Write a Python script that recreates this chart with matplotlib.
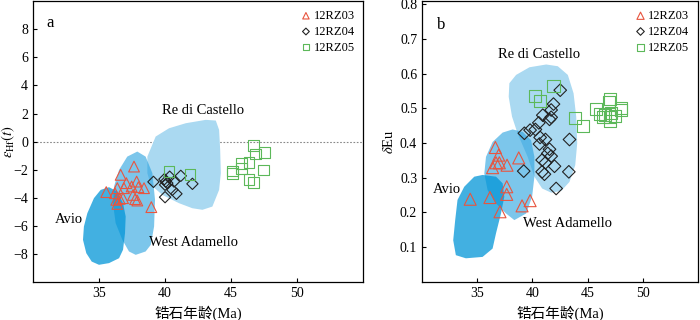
import numpy as np
import matplotlib
matplotlib.use("Agg")
import matplotlib.pyplot as plt
from matplotlib.patches import Polygon

plt.rcParams['font.family'] = ['Liberation Serif', 'Noto Sans CJK SC']
plt.rcParams['mathtext.fontset'] = 'stix'
plt.rcParams['font.size'] = 10

# ---- panel a : eHf(t) vs age ----
a_rz03_age = [35.55, 36.21, 36.31, 36.39, 36.57, 36.64, 36.82, 36.39, 37.07, 36.89,
              37.47, 37.65, 37.85, 37.98, 38.41, 37.58, 37.73, 37.90, 38.96]
a_rz03_ehf = [-3.60, -3.68, -4.15, -4.44, -4.08, -2.37, -4.03, -3.32, -2.96, -3.32,
              -3.20, -1.78, -2.85, -3.25, -3.32, -3.80, -4.10, -4.20, -4.67]
a_rz04_age = [39.12, 39.95, 40.05, 40.00, 40.17, 40.68, 41.19, 42.07, 40.55, 40.86, 40.00, 40.35]
a_rz04_ehf = [-2.87, -2.68, -2.85, -3.08, -2.96, -2.85, -2.44, -3.01, -3.44, -3.72, -3.96, -2.50]
a_rz05_age = [40.30, 41.89, 45.10, 45.10, 45.78, 45.78, 46.36, 46.87, 46.67, 47.50, 47.45, 46.36, 46.67]
a_rz05_ehf = [-2.14, -2.37, -2.09, -2.25, -1.54, -1.90, -1.49, -0.88, -0.28, -0.76, -2.02, -2.68, -2.92]

a_avio_x = [35.76, 36.39, 36.82, 37.02, 36.97, 36.82, 36.52, 35.76, 35.00, 34.45, 34.04, 33.79, 33.86, 34.12, 34.62, 35.13]
a_avio_y = [-3.25, -3.56, -4.39, -5.34, -6.52, -7.71, -8.31, -8.66, -8.78, -8.55, -7.95, -7.00, -6.05, -5.10, -4.03, -3.44]
a_west_x = [37.90, 38.53, 39.04, 39.24, 39.17, 38.92, 38.53, 37.78, 37.27, 36.77, 36.26, 36.06, 36.14, 36.52, 37.14]
a_west_y = [-0.71, -1.07, -2.25, -4.15, -6.05, -7.36, -7.83, -8.07, -7.83, -7.00, -5.81, -4.39, -3.20, -2.02, -1.07]
a_redi_x = [38.66, 39.29, 40.30, 41.57, 43.08, 43.84, 44.09, 44.17, 44.22, 44.09, 43.58, 42.83, 42.07, 41.06, 39.80, 38.92, 38.66]
a_redi_y = [-1.07, 0.36, 0.95, 1.31, 1.55, 1.50, 0.83, -0.59, -2.25, -3.44, -4.63, -4.86, -4.75, -4.39, -3.80, -3.08, -2.25]

# ---- panel b : dEu vs age ----
b_rz03_age = [36.64, 36.94, 37.00, 36.70, 36.39, 37.70, 38.76, 37.67, 37.67, 36.15, 34.36, 37.06, 39.06, 39.79]
b_rz03_eu = [0.387, 0.365, 0.343, 0.343, 0.329, 0.336, 0.357, 0.274, 0.252, 0.243, 0.238, 0.202, 0.219, 0.234]
b_rz04_age = [42.52, 41.91, 41.70, 40.94, 41.70, 41.55, 40.58, 40.27, 39.79, 39.27, 40.70, 41.18, 40.64,
              41.55, 41.39, 41.70, 40.88, 41.18, 42.00, 40.88, 41.09, 42.15, 43.30, 43.36, 39.21]
b_rz04_eu = [0.552, 0.512, 0.495, 0.480, 0.474, 0.468, 0.458, 0.439, 0.437, 0.428, 0.416, 0.410, 0.397,
             0.382, 0.370, 0.362, 0.351, 0.343, 0.333, 0.317, 0.310, 0.269, 0.317, 0.410, 0.319]
b_rz05_age = [41.91, 40.24, 40.73, 43.88, 44.58, 45.79, 46.15, 46.39, 47.00, 46.94, 47.15, 47.00, 47.00, 47.45, 48.06, 48.00, 46.55]
b_rz05_eu = [0.564, 0.535, 0.521, 0.471, 0.450, 0.497, 0.483, 0.474, 0.528, 0.519, 0.487, 0.474, 0.464, 0.477, 0.500, 0.495, 0.480]

b_avio_x = [35.48, 36.70, 37.30, 37.45, 37.15, 36.70, 36.39, 35.48, 33.97, 33.06, 32.82, 33.00, 33.21, 33.82, 34.73]
b_avio_y = [0.308, 0.303, 0.284, 0.245, 0.197, 0.140, 0.096, 0.072, 0.068, 0.077, 0.120, 0.178, 0.236, 0.274, 0.303]
b_west_x = [38.21, 39.12, 39.88, 40.18, 40.18, 39.97, 39.43, 38.36, 37.61, 36.70, 35.94, 35.64, 35.79, 36.39, 37.30]
b_west_y = [0.439, 0.432, 0.408, 0.360, 0.303, 0.245, 0.197, 0.178, 0.197, 0.226, 0.264, 0.312, 0.360, 0.403, 0.430]
b_redi_x = [41.25, 42.30, 43.21, 43.73, 43.97, 44.06, 43.88, 43.36, 42.61, 41.70, 40.88, 40.18, 39.57, 38.66,
            38.15, 37.85, 37.91, 38.52, 39.73]
b_redi_y = [0.626, 0.621, 0.596, 0.543, 0.476, 0.399, 0.336, 0.288, 0.262, 0.257, 0.269, 0.303, 0.360, 0.427,
            0.476, 0.533, 0.572, 0.596, 0.618]

c_redi = '#aad9f1'
c_west = '#25a0df'
c_avio = '#0095d7'
c_red = '#e8553f'
c_green = '#5cb85a'

fig = plt.figure(figsize=(7, 3.2), dpi=100)
ax1 = fig.add_axes([0.047, 0.119, 0.472, 0.877])
ax2 = fig.add_axes([0.603, 0.119, 0.394, 0.877])


def draw_panel(ax, redi, west, avio, rz03, rz04, rz05, ms):
    ax.add_patch(Polygon(np.column_stack(redi), closed=True, fc=c_redi, ec='none', zorder=1))
    ax.add_patch(Polygon(np.column_stack(west), closed=True, fc=c_west, ec='none', alpha=0.6, zorder=2))
    ax.add_patch(Polygon(np.column_stack(avio), closed=True, fc=c_avio, ec='none', alpha=0.74, zorder=3))
    ax.scatter(rz03[0], rz03[1], marker='^', s=ms, facecolors='none', edgecolors=c_red, linewidths=0.8, zorder=5, label='12RZ03')
    ax.scatter(rz04[0], rz04[1], marker='D', s=ms * 0.55, facecolors='none', edgecolors='#222222', linewidths=0.8, zorder=5, label='12RZ04')
    ax.scatter(rz05[0], rz05[1], marker='s', s=ms, facecolors='none', edgecolors=c_green, linewidths=0.8, zorder=5, label='12RZ05')
    ax.set_xlim(30, 55)
    ax.set_xticks([35, 40, 45, 50])
    ax.tick_params(direction='in', length=3, width=0.8, labelsize=10)
    for s in ax.spines.values():
        s.set_linewidth(0.9)
    ax.set_xlabel('锆石年龄(Ma)', fontsize=10.5, labelpad=4)
    ax.legend(loc='upper right', frameon=False, fontsize=9, handletextpad=0.1, labelspacing=0.3,
              markerscale=0.6, borderaxespad=0.3, handlelength=1.0)


draw_panel(ax1, (a_redi_x, a_redi_y), (a_west_x, a_west_y), (a_avio_x, a_avio_y),
           (a_rz03_age, a_rz03_ehf), (a_rz04_age, a_rz04_ehf), (a_rz05_age, a_rz05_ehf), 60)
ax1.set_ylim(-10, 10)
ax1.set_yticks([-8, -6, -4, -2, 0, 2, 4, 6, 8])
ax1.set_yticklabels(['\u22128', '\u22126', '\u22124', '\u22122', '0', '2', '4', '6', '8'])
ax1.axhline(0, color='#888888', lw=0.8, ls=(0, (1.5, 1.5)), zorder=0)
ax1.set_ylabel(r'$\varepsilon_{\rm Hf}(t)$', fontsize=10.5)
ax1.yaxis.set_label_coords(-0.048, 0.5)
ax1.text(0.042, 0.95, 'a', transform=ax1.transAxes, fontsize=12, va='top')
ax1.text(42.88, 2.19, 'Re di Castello', ha='center', va='center', fontsize=10.5)
ax1.text(32.73, -5.58, 'Avio', ha='center', va='center', fontsize=10.5)
ax1.text(42.12, -7.21, 'West Adamello', ha='center', va='center', fontsize=10.5)

draw_panel(ax2, (b_redi_x, b_redi_y), (b_west_x, b_west_y), (b_avio_x, b_avio_y),
           (b_rz03_age, b_rz03_eu), (b_rz04_age, b_rz04_eu), (b_rz05_age, b_rz05_eu), 75)
ax2.set_ylim(0, 0.808)
ax2.set_yticks([0.1, 0.2, 0.3, 0.4, 0.5, 0.6, 0.7, 0.8])
ax2.set_ylabel(r'$\delta$Eu', fontsize=10.5)
ax2.yaxis.set_label_coords(-0.095, 0.5)
ax2.text(0.054, 0.945, 'b', transform=ax2.transAxes, fontsize=12, va='top')
ax2.text(40.64, 0.656, 'Re di Castello', ha='center', va='center', fontsize=10.5)
ax2.text(32.27, 0.267, 'Avio', ha='center', va='center', fontsize=10.5)
ax2.text(43.18, 0.169, 'West Adamello', ha='center', va='center', fontsize=10.5)

fig.savefig('out.png', dpi=100)
